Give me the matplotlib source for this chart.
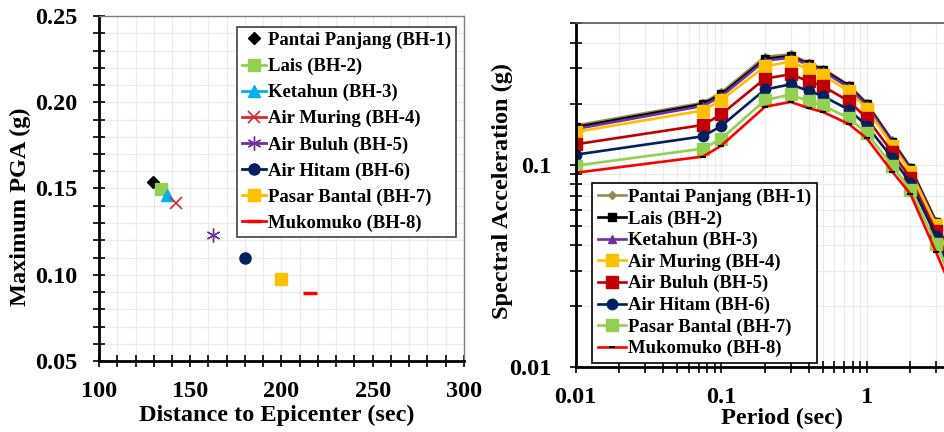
import matplotlib
matplotlib.use('Agg')
import matplotlib.pyplot as plt
from matplotlib.ticker import MultipleLocator, LogLocator, NullFormatter, FixedLocator

plt.rcParams['font.family'] = ['Liberation Serif', 'DejaVu Serif']
plt.rcParams['font.weight'] = 'bold'

# Left chart: PGA vs distance
sites = ['Pantai Panjang (BH-1)', 'Lais (BH-2)', 'Ketahun (BH-3)', 'Air Muring (BH-4)',
         'Air Buluh (BH-5)', 'Air Hitam (BH-6)', 'Pasar Bantal (BH-7)', 'Mukomuko (BH-8)']
dist = [129.4, 134, 137, 142, 162.5, 180, 200, 215.5]
pga = [0.154, 0.1495, 0.146, 0.1414, 0.123, 0.110, 0.0977, 0.0897]

# Right chart: response spectra
period = [0.01, 0.075, 0.1, 0.2, 0.3, 0.4, 0.5, 0.75, 1.0, 1.5, 2.0, 3.0, 4.0]
sa_bh1 = [0.156, 0.202, 0.227, 0.341, 0.350, 0.318, 0.298, 0.248, 0.202, 0.132, 0.097, 0.0527, 0.032]
sa_bh2 = [0.153, 0.199, 0.222, 0.332, 0.344, 0.313, 0.294, 0.245, 0.199, 0.130, 0.096, 0.0521, 0.0316]
sa_bh3 = [0.150, 0.195, 0.217, 0.326, 0.337, 0.310, 0.289, 0.241, 0.196, 0.128, 0.0945, 0.0514, 0.0311]
sa_bh4 = [0.145, 0.185, 0.208, 0.306, 0.322, 0.295, 0.276, 0.231, 0.189, 0.124, 0.0923, 0.0502, 0.0304]
sa_bh5 = [0.126, 0.157, 0.177, 0.266, 0.279, 0.258, 0.244, 0.206, 0.170, 0.115, 0.0857, 0.0468, 0.0285]
sa_bh6 = [0.112, 0.138, 0.155, 0.235, 0.249, 0.231, 0.218, 0.187, 0.156, 0.1076, 0.0812, 0.0444, 0.0271]
sa_bh7 = [0.0989, 0.120, 0.134, 0.208, 0.222, 0.205, 0.196, 0.170, 0.143, 0.0989, 0.075, 0.0407, 0.025]
sa_bh8 = [0.0912, 0.1096, 0.124, 0.193, 0.204, 0.190, 0.182, 0.159, 0.135, 0.0923, 0.0716, 0.0369, 0.0228]
spectra = [sa_bh1, sa_bh2, sa_bh3, sa_bh4, sa_bh5, sa_bh6, sa_bh7, sa_bh8]

fig = plt.figure(figsize=(9.45, 4.32), dpi=100)

grid_col = '#EBEBEB'
tick_fs = 17.5
label_fs = 17.5
leg_fs = 13.5

# ---------------- left ----------------
ax1 = fig.add_axes([99 / 945, 71 / 432, 365 / 945, 345 / 432])
left_colors = ['black', '#92D050', '#00B0F0', '#D42A2A', '#7030A0', '#002060', '#FFC000', '#FF0000']
left_markers = ['D', 's', '^', 'x', (6, 2, 0), 'o', 's', '_']
left_sizes = [6.5, 9, 8, 9, 10, 8, 8.5, 10]
left_mew = [1, 1, 1, 1.2, 1.0, 1, 1, 2.5]
for i in range(len(sites)):
    ls = 'none' if i == 0 else '-'
    ax1.plot(dist[i], pga[i], marker=left_markers[i], color=left_colors[i], linestyle=ls, lw=2,
             markersize=left_sizes[i], markeredgewidth=left_mew[i], label=sites[i])

ax1.set_xlim(100, 300)
ax1.set_ylim(0.05, 0.25)
ax1.xaxis.set_major_locator(MultipleLocator(50))
ax1.xaxis.set_minor_locator(MultipleLocator(10))
ax1.yaxis.set_major_locator(MultipleLocator(0.05))
ax1.yaxis.set_minor_locator(MultipleLocator(0.01))
ax1.yaxis.set_major_formatter(plt.FuncFormatter(lambda v, p: f'{v:.2f}'))
ax1.grid(True, which='both', color=grid_col, lw=0.9, zorder=0)
ax1.set_axisbelow(True)
ax1.tick_params(axis='both', which='both', direction='inout', length=9, width=1.2, labelsize=tick_fs, pad=10)
ax1.tick_params(axis='y', which='both', pad=11)
ax1.spines['left'].set_linewidth(2)
ax1.spines['bottom'].set_linewidth(2)
for s in ['top', 'right']:
    ax1.spines[s].set_color('#7F7F7F')
    ax1.spines[s].set_linewidth(1)
ax1.set_xlabel('Distance to Epicenter (sec)', fontsize=label_fs, fontweight='bold')
ax1.set_ylabel('Maximum PGA (g)', fontsize=label_fs, fontweight='bold')
ax1.xaxis.set_label_coords(0.488, -0.128)
ax1.yaxis.set_label_coords(-0.185, 0.446)
leg1 = ax1.legend(loc='upper right', bbox_to_anchor=(456 / 945, (432 - 27) / 432),
                  bbox_transform=fig.transFigure, fontsize=leg_fs, fancybox=False, framealpha=1,
                  edgecolor='#404040', handlelength=1.3, handletextpad=0.1, labelspacing=0.47,
                  borderpad=0.25, borderaxespad=0)
leg1.get_frame().set_linewidth(1.2)

# ---------------- right ----------------
ax2 = fig.add_axes([575.7 / 945, (432 - 367.3) / 432, 436.5 / 945, 344.3 / 432])
right_colors = ['#948A54', 'black', '#7030A0', '#FFC000', '#C00000', '#002060', '#92D050', '#FF0000']
right_markers = ['D', 's', '^', 's', 's', 'o', 's', '_']
right_sizes = [4, 5.5, 5.5, 8, 8, 7.5, 8, 4]
for i in range(len(sites)):
    mec = 'black' if i == 7 else right_colors[i]
    ax2.plot(period, spectra[i], color=right_colors[i], lw=1.9, marker=right_markers[i],
             markersize=right_sizes[i], markeredgecolor=mec, markerfacecolor=mec,
             markeredgewidth=1.5 if i == 7 else 1, label=sites[i])

ax2.set_xscale('log')
ax2.set_yscale('log')
ax2.set_xlim(0.01, 10)
ax2.set_ylim(0.01, 0.5)
ax2.xaxis.set_major_locator(FixedLocator([0.01, 0.1, 1]))
ax2.xaxis.set_minor_locator(LogLocator(base=10, subs=range(2, 10)))
ax2.xaxis.set_minor_formatter(NullFormatter())
ax2.xaxis.set_major_formatter(plt.FuncFormatter(lambda v, p: f'{v:g}'))
ax2.yaxis.set_major_locator(FixedLocator([0.01, 0.1]))
ax2.yaxis.set_minor_locator(LogLocator(base=10, subs=range(2, 10)))
ax2.yaxis.set_minor_formatter(NullFormatter())
ax2.yaxis.set_major_formatter(plt.FuncFormatter(lambda v, p: f'{v:g}'))
ax2.grid(True, which='both', color=grid_col, lw=0.9)
ax2.set_axisbelow(True)
ax2.tick_params(axis='both', which='both', direction='inout', length=9, width=1.2, labelsize=tick_fs, pad=10)
ax2.tick_params(axis='y', which='both', pad=13)
ax2.spines['left'].set_linewidth(2)
ax2.spines['bottom'].set_linewidth(2)
for s in ['top', 'right']:
    ax2.spines[s].set_color('#595959')
    ax2.spines[s].set_linewidth(1.2)
ax2.set_xlabel('Period (sec)', fontsize=label_fs, fontweight='bold')
ax2.set_ylabel('Spectral Acceleration (g)', fontsize=label_fs, fontweight='bold')
ax2.xaxis.set_label_coords(0.472, -0.118)
ax2.yaxis.set_label_coords(-0.1436, 0.512)
leg2 = ax2.legend(loc='lower left', bbox_to_anchor=(592 / 945, (432 - 363) / 432),
                  bbox_transform=fig.transFigure, fontsize=leg_fs, fancybox=False, framealpha=1,
                  edgecolor='black', handlelength=1.5, handletextpad=0.1, labelspacing=0.23,
                  borderpad=0.3, borderaxespad=0)
leg2.get_frame().set_linewidth(1.2)

fig.savefig('out.png', dpi=100)
